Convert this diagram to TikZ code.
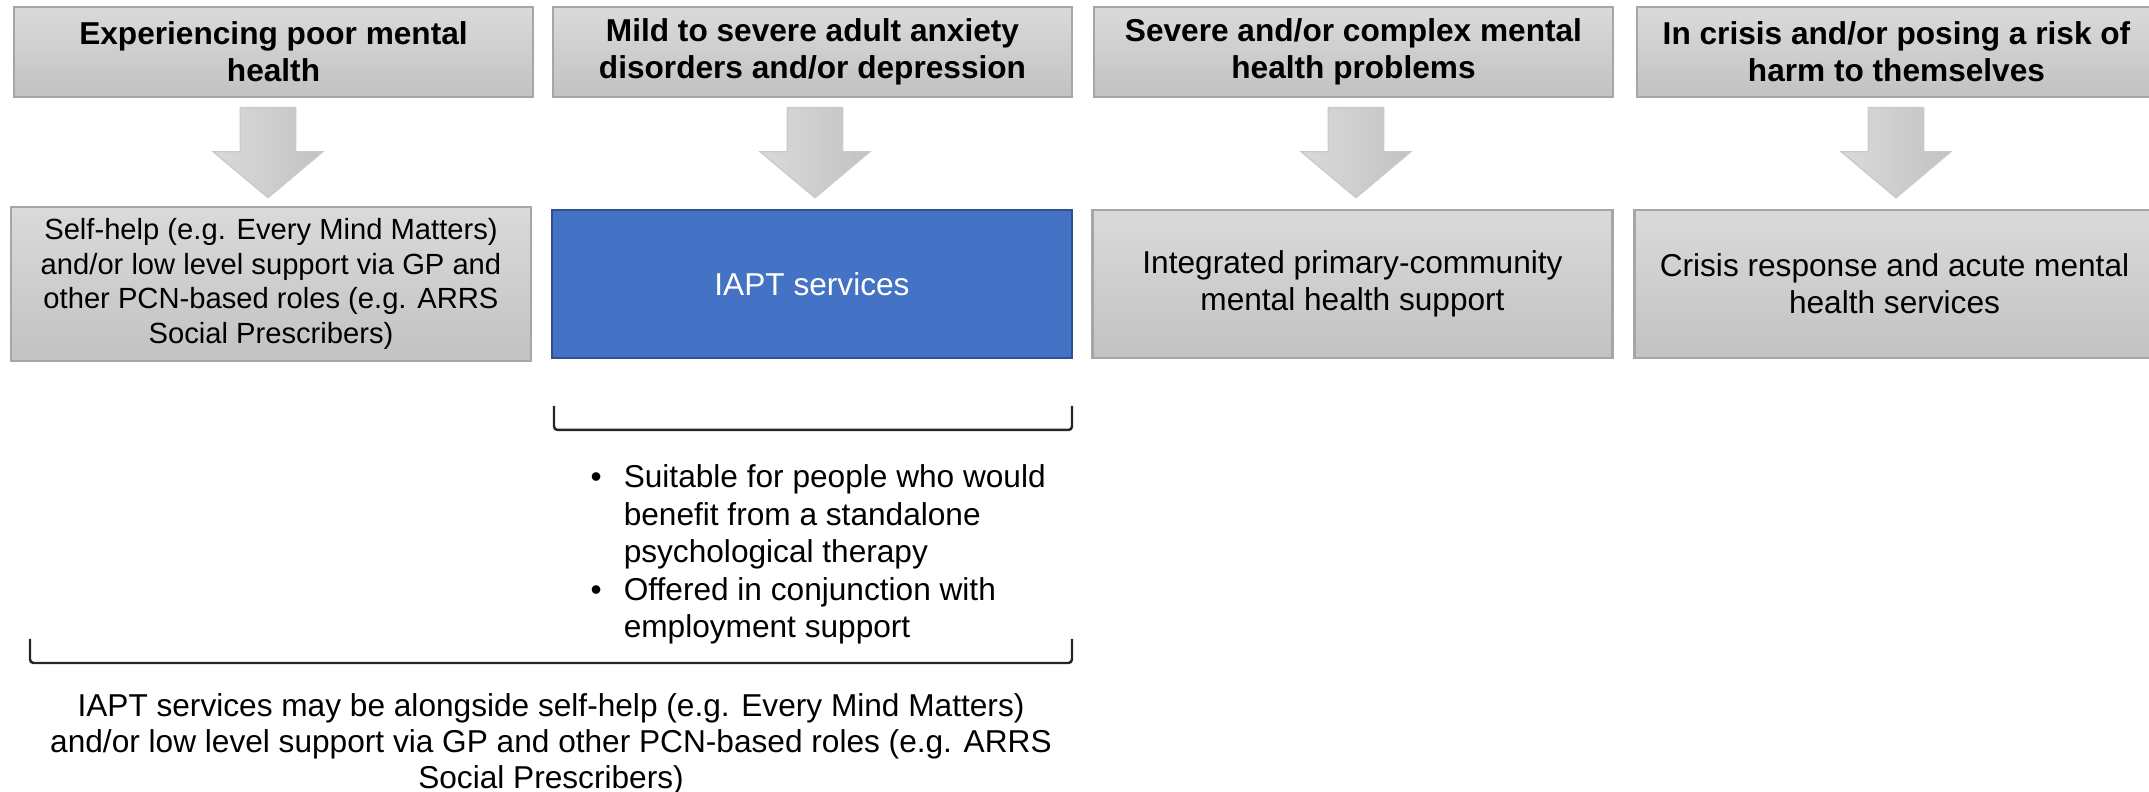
\documentclass[tikz,border=0pt]{standalone}
\usepackage{fontspec}
\setmainfont{Liberation Sans}
\setsansfont{Liberation Sans}
\usetikzlibrary{shapes.arrows}

\definecolor{grigioalto}{HTML}{DADADA}
\definecolor{grigiobasso}{HTML}{C2C2C2}
\definecolor{bordogrigio}{HTML}{A6A6A6}
\definecolor{bluiapt}{HTML}{4472C4}
\definecolor{bordoblu}{HTML}{2F528F}

\begin{document}
\begin{tikzpicture}[font=\sffamily]

        % Stili per testate, riquadri, frecce e parentesi
        \tikzstyle{grigio}=[draw=bordogrigio, top color=grigioalto, bottom color=grigiobasso]
        \tikzstyle{testata}=[grigio, line width=0.6pt, minimum width=5.19cm, minimum height=0.9cm, align=center, font=\fontsize{9}{10.6}\selectfont\bfseries]
        \tikzstyle{riquadro}=[line width=0.6pt, minimum width=5.2cm, minimum height=1.48cm, align=center, font=\fontsize{9}{10.6}\selectfont]
        \tikzstyle{freccia}=[single arrow, rotate=-90, draw=bordogrigio!60, line width=0.4pt, left color=grigioalto, right color=grigiobasso, minimum height=0.9cm, minimum width=1.08cm, inner xsep=0pt, inner ysep=0.27cm, single arrow head extend=0.27cm, single arrow tip angle=100, anchor=tail]
        \tikzstyle{parentesi}=[line width=0.7pt, draw=black!85, rounded corners=1pt]

        % Area del disegno (la quarta colonna esce dal bordo)
        \useasboundingbox (0,0) rectangle (21.49,7.92);
        \clip (0,0) rectangle (21.49,7.92);

        % Testate delle quattro colonne
        \node[testata] (h1) at (2.735,7.40) {Experiencing poor mental\\health};
        \node[testata] (h2) at (8.125,7.40) {Mild to severe adult anxiety\\disorders and/or depression};
        \node[testata] (h3) at (13.535,7.40) {Severe and/or complex mental\\health problems};
        \node[testata] (h4) at (18.965,7.40) {In crisis and/or posing a risk of\\harm to themselves};

        % Frecce verso i servizi
        \node[freccia] (a1) at (2.68,6.85) {};
        \node[freccia] (a2) at (8.15,6.85) {};
        \node[freccia] (a3) at (13.56,6.85) {};
        \node[freccia] (a4) at (18.96,6.85) {};

        % Servizi offerti
        \node[riquadro, grigio, font=\fontsize{8.3}{9.8}\selectfont] (b1) at (2.71,5.08) {Self-help (e.g. Every Mind Matters)\\and/or low level support via GP and\\other PCN-based roles (e.g. ARRS\\Social Prescribers)};
        \node[riquadro, draw=bordoblu, fill=bluiapt, text=white] (b2) at (8.12,5.08) {IAPT services};
        \node[riquadro, grigio] (b3) at (13.525,5.08) {Integrated primary-community\\mental health support};
        \node[riquadro, grigio] (b4) at (18.945,5.08) {Crisis response and acute mental\\health services};

        % Parentesi sotto IAPT con i punti elenco
        \draw[parentesi] (5.54,3.86) -- (5.54,3.62) -- (10.72,3.62) -- (10.72,3.86);
        \node[anchor=base west, inner sep=0pt, font=\fontsize{9}{10.67}\selectfont] (punti) at (5.90,3.04) {\begin{tabular}[t]{@{}l@{\hspace{0.22cm}}l@{}}
            \textbullet & Suitable for people who would\\
                        & benefit from a standalone\\
                        & psychological therapy\\
            \textbullet & Offered in conjunction with\\
                        & employment support
        \end{tabular}};

        % Parentesi lunga e nota finale
        \draw[parentesi] (0.30,1.53) -- (0.30,1.29) -- (10.72,1.29) -- (10.72,1.53);
        \node[align=center, font=\fontsize{9}{10.2}\selectfont] (nota) at (5.51,0.48) {IAPT services may be alongside self-help (e.g. Every Mind Matters)\\and/or low level support via GP and other PCN-based roles (e.g. ARRS\\Social Prescribers)};

    \end{tikzpicture}
\end{document}
